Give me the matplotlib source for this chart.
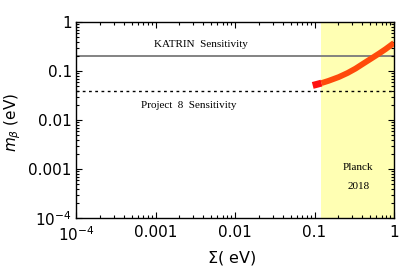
import matplotlib
matplotlib.use("Agg")
import matplotlib.pyplot as plt
import numpy as np
from matplotlib.ticker import FixedLocator, FixedFormatter, LogLocator, NullFormatter

# values
sigma = [0.095, 0.105, 0.1225, 0.15, 0.202, 0.26, 0.328, 0.42, 0.532, 0.65, 0.782, 0.9, 1.0]
mbeta = [0.0508, 0.053, 0.0567, 0.063, 0.0753, 0.091, 0.112, 0.145, 0.185, 0.228, 0.279, 0.33, 0.375]
n_red = 3  # first points drawn in pure red

katrin = 0.2
project8 = 0.04
planck = 0.12

xticks = [1e-4, 1e-3, 1e-2, 1e-1, 1]
xlabels = [r"$10^{-4}$", "0.001", "0.01", "0.1", "1"]
yticks = [1e-4, 1e-3, 1e-2, 1e-1, 1]
ylabels = [r"$10^{-4}$", "0.001", "0.01", "0.1", "1"]

plt.rcParams['mathtext.fontset'] = 'dejavusans'
fig = plt.figure(figsize=(4, 2.67), dpi=100)
ax = fig.add_axes([0.19, 0.1835, 0.795, 0.734])

ax.set_xscale('log')
ax.set_yscale('log')
ax.set_xlim(1e-4, 1)
ax.set_ylim(1e-4, 1)

ax.axvspan(planck, 1, color='#ffffb3', zorder=0, lw=0)
ax.axhline(katrin, color='#7a7a7a', lw=1.3, zorder=1)
ax.axhline(project8, color='black', lw=1.0, ls=(0, (2, 2.5)), zorder=1)

ax.plot(sigma[n_red - 1:], mbeta[n_red - 1:], color='#ff4a0a', lw=4.2,
        solid_capstyle='butt', zorder=3)
ax.plot(sigma[:n_red], mbeta[:n_red], color='#ff1010', lw=5.0,
        solid_capstyle='butt', zorder=4)

serif = ['Liberation Serif', 'DejaVu Serif']
ax.text(0.0037, 0.34, "KATRIN  Sensitivity", family=serif, fontsize=8,
        ha='center', va='center')
ax.text(0.0026, 0.0194, "Project  8  Sensitivity", family=serif, fontsize=8,
        ha='center', va='center')
ax.text(0.357, 0.00105, "Planck", family=serif, fontsize=8, ha='center', va='center')
ax.text(0.357, 0.00043, "2018", family=serif, fontsize=8, ha='center', va='center')

ax.xaxis.set_major_locator(FixedLocator(xticks))
ax.xaxis.set_major_formatter(FixedFormatter(xlabels))
ax.yaxis.set_major_locator(FixedLocator(yticks))
ax.yaxis.set_major_formatter(FixedFormatter(ylabels))
for a in (ax.xaxis, ax.yaxis):
    a.set_minor_locator(LogLocator(base=10, subs=np.arange(2, 10), numticks=20))
    a.set_minor_formatter(NullFormatter())

ax.tick_params(which='both', direction='in', top=True, right=True, labelsize=11,
               width=0.8)
ax.tick_params(axis='x', pad=5)
ax.tick_params(axis='y', pad=3)
ax.tick_params(which='major', length=4)
ax.tick_params(which='minor', length=2)
for s in ax.spines.values():
    s.set_linewidth(1.0)

ax.set_xlabel(r"$\Sigma$( eV)", fontsize=11.5)
ax.set_ylabel(r"$m_\beta$ (eV)", fontsize=11)
ax.xaxis.set_label_coords(0.49, -0.204)
ax.xaxis.label.set_va('center')
ax.yaxis.set_label_coords(-0.2, 0.49)
ax.yaxis.label.set_va('center')

fig.savefig("out.png", dpi=100)
